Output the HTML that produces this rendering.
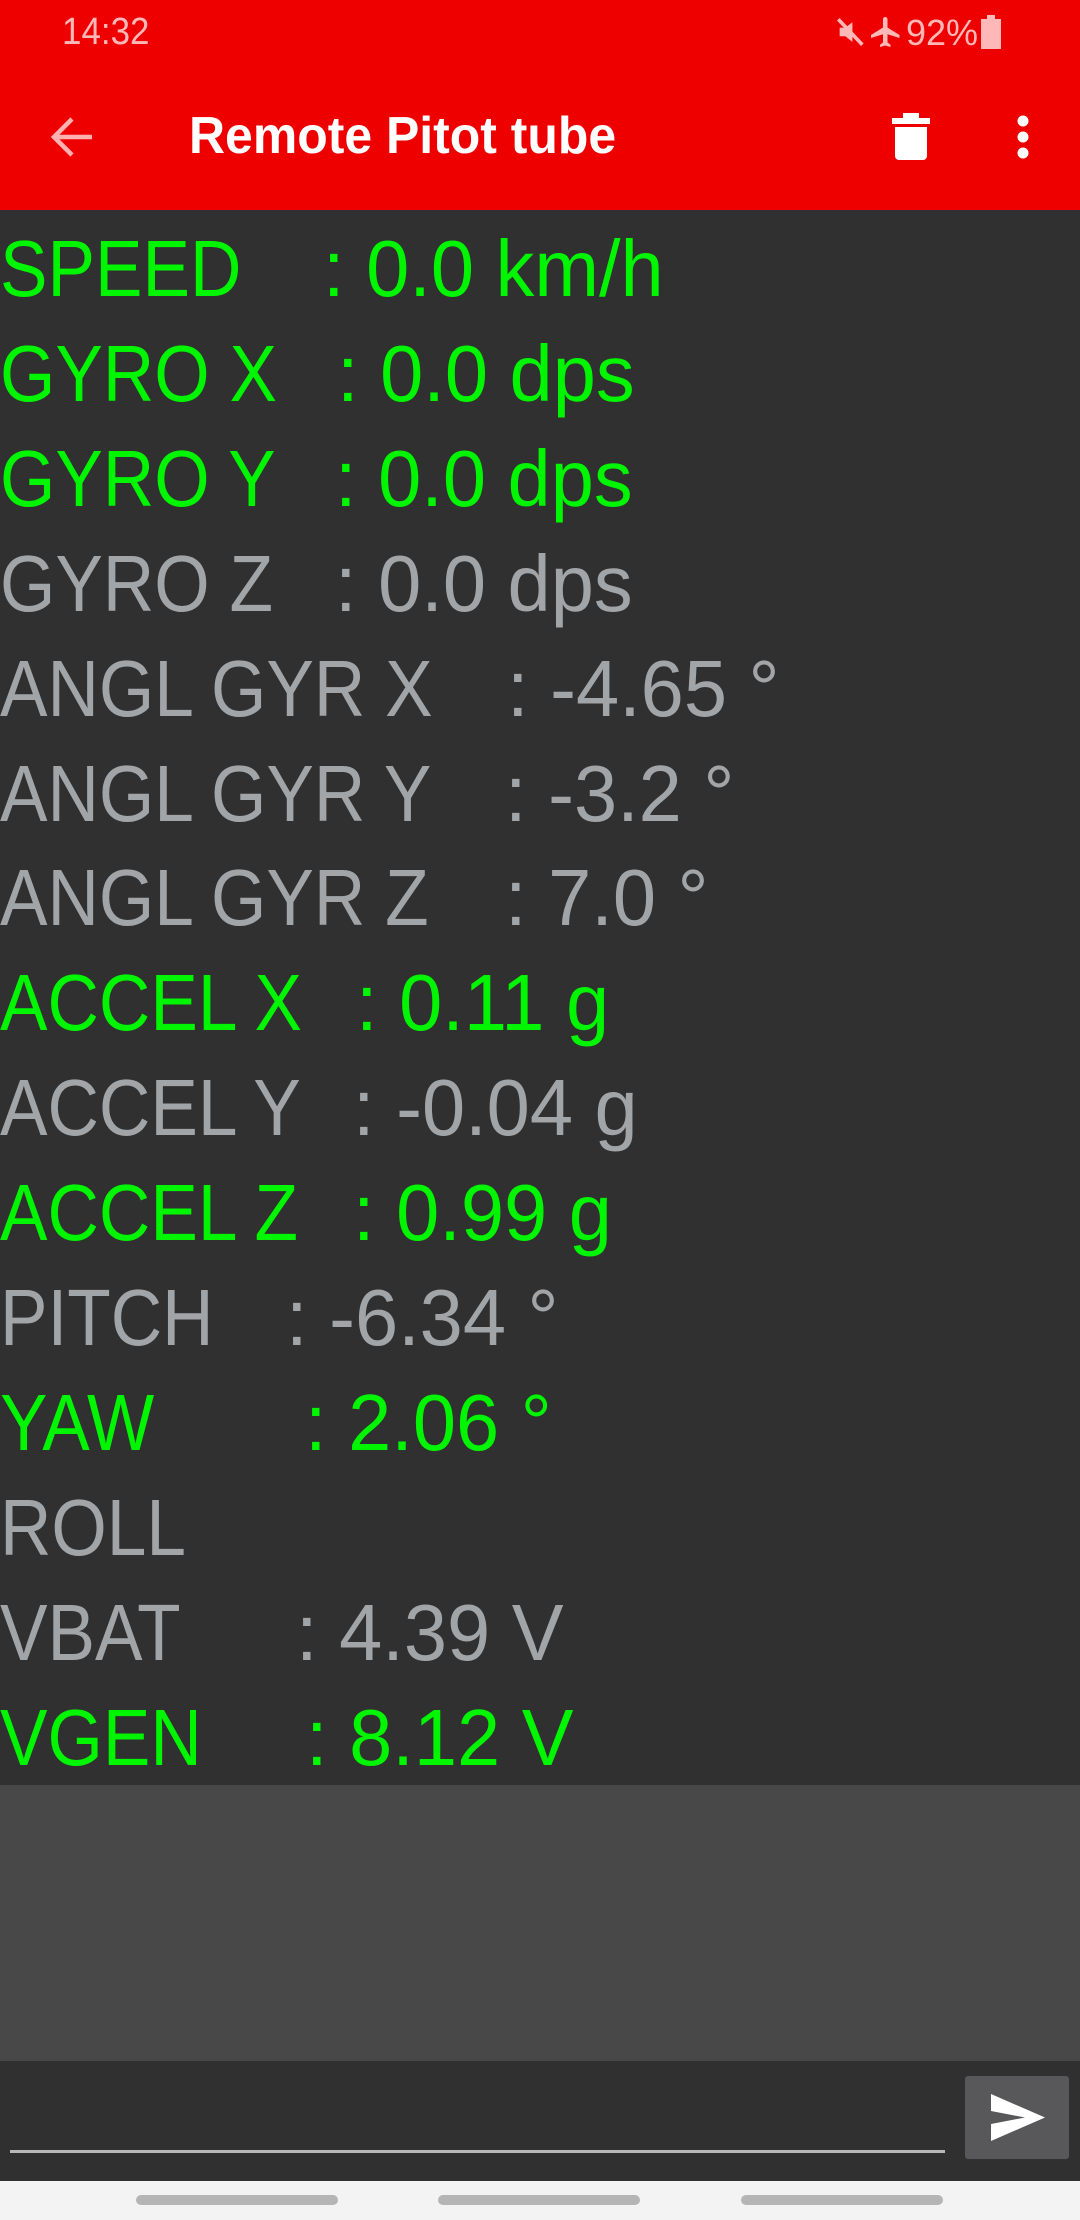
<!DOCTYPE html>
<html><head><meta charset="utf-8"><style>
*{margin:0;padding:0;box-sizing:border-box}
body{width:1080px;height:2220px;background:#303030;position:relative;overflow:hidden;font-family:"Liberation Sans",sans-serif}
.abs{position:absolute}
.ln{position:absolute;left:0;font-size:80px;line-height:1;white-space:pre}
.lab{position:absolute;left:0;transform:scaleX(0.89);transform-origin:0 0}
.val{position:absolute;transform:scaleX(0.97);transform-origin:0 0}
</style></head><body>
<div class="abs" style="left:0;top:0;width:1080px;height:210px;background:#ee0000"></div>
<div class="abs" style="left:62px;top:11px;font-size:38px;color:#ffb8b8;transform:scaleX(0.92);transform-origin:0 0">14:32</div>
<div class="abs" style="left:834px;top:12px;font-size:36px;color:#ffb8b8;white-space:nowrap">
<svg width="34" height="34" viewBox="0 0 24 24" style="vertical-align:-4px"><path d="M4 9h4l5-4v14l-5-4H4z" fill="#ffb8b8"/><path d="M3 3l17 18" stroke="#ffb8b8" stroke-width="2.5"/></svg><svg width="36" height="36" viewBox="0 0 24 24" style="vertical-align:-5px"><path d="M21 16v-2l-8-5V3.5a1.5 1.5 0 0 0-3 0V9l-8 5v2l8-2.5V19l-2 1.5V22l3.5-1 3.5 1v-1.5L13 19v-5.5z" fill="#ffb8b8"/></svg><span style="display:inline-block;margin-left:2px">92%</span><svg width="22" height="34" viewBox="0 0 11 17" style="vertical-align:-4px;margin-left:2px"><rect x="3.5" y="0" width="4" height="2" fill="#ffb8b8"/><rect x="0.5" y="2" width="10" height="15" fill="#ffb8b8"/></svg></div>
<svg class="abs" style="left:48px;top:115px" width="50" height="44" viewBox="0 0 50 44"><path d="M44 22H6M24 4L6 22l18 18" stroke="#ffb0b0" stroke-width="4.5" fill="none"/></svg>
<div class="abs" style="left:189px;top:106px;font-size:52px;font-weight:bold;color:#fff;transform:scaleX(0.96);transform-origin:0 0;white-space:nowrap">Remote Pitot tube</div>
<svg class="abs" style="left:891px;top:112px" width="40" height="49" viewBox="0 0 40 49"><rect x="1" y="6" width="38" height="6" fill="#fff"/><rect x="12" y="1" width="16" height="6" fill="#fff"/><path d="M4 15h32v29a4 4 0 0 1-4 4H8a4 4 0 0 1-4-4z" fill="#fff"/></svg>
<svg class="abs" style="left:1013px;top:114px" width="20" height="46" viewBox="0 0 20 46"><circle cx="10" cy="7" r="5.5" fill="#fff"/><circle cx="10" cy="23" r="5.5" fill="#fff"/><circle cx="10" cy="39" r="5.5" fill="#fff"/></svg>
<div id="lines"></div>
<div class="abs" style="left:0;top:1785px;width:1080px;height:276px;background:#484848"></div>
<div class="abs" style="left:10px;top:2150px;width:935px;height:3px;background:#b8b8b8"></div>
<div class="abs" style="left:965px;top:2076px;width:104px;height:83px;background:#58585a;border-radius:3px">
<svg width="104" height="83" viewBox="0 0 104 83"><path d="M26 18L80 41.5 26 65V48l34-6.5L26 35z" fill="#fff"/></svg></div>
<div class="abs" style="left:0;top:2181px;width:1080px;height:39px;background:#f3f3f3"></div>
<div class="abs" style="left:136px;top:2195px;width:202px;height:10px;background:#b5b5b5;border-radius:5px"></div>
<div class="abs" style="left:438px;top:2195px;width:202px;height:10px;background:#b5b5b5;border-radius:5px"></div>
<div class="abs" style="left:741px;top:2195px;width:202px;height:10px;background:#b5b5b5;border-radius:5px"></div>
<script>
const labels=["SPEED","GYRO X","GYRO Y","GYRO Z","ANGL GYR X","ANGL GYR Y","ANGL GYR Z","ACCEL X","ACCEL Y","ACCEL Z","PITCH","YAW","ROLL","VBAT","VGEN"];
const values=[": 0.0 km/h",": 0.0 dps",": 0.0 dps",": 0.0 dps",": -4.65 °",": -3.2 °",": 7.0 °",": 0.11 g",": -0.04 g",": 0.99 g",": -6.34 °",": 2.06 °","",": 4.39 V",": 8.12 V"];
const active=[1,1,1,0,0,0,0,1,0,1,0,1,0,0,1];
const colonX=[328,342,340,340,512,510,510,361,358,358,291,310,0,301,311];
const wrap=document.getElementById('lines');
labels.forEach((l,i)=>{
  const top=294+i*104.9-65;
  const d=document.createElement('div');
  d.className='ln';
  
  
  d.style.top=top+'px';
  d.style.color=active[i]?'#00f500':'#a2a5a8';
  const a=document.createElement('span');a.className='lab';a.textContent=l;
  
  
  d.appendChild(a);
  if(values[i]){const b=document.createElement('span');b.className='val';b.textContent=values[i];b.style.left=(colonX[i]-5)+'px';
  
  
  d.appendChild(b);}
  wrap.appendChild(d);
});
</script>
</body></html>
